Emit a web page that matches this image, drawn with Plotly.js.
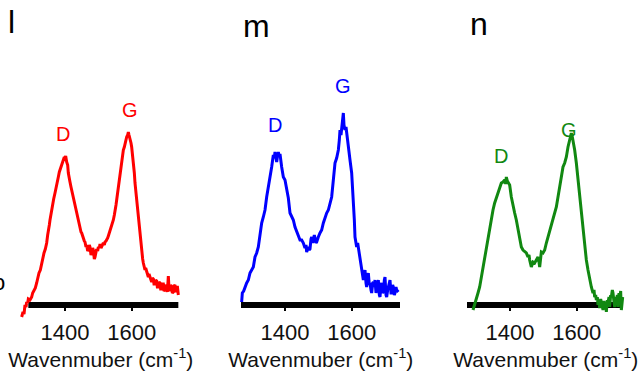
<!DOCTYPE html>
<html><head><meta charset="utf-8">
<script src="https://cdn.plot.ly/plotly-3.0.1.min.js"></script>
<style>html,body{margin:0;padding:0;background:#fff;}#chart{width:643px;height:381px;}</style>
</head><body><div id="chart"></div>
<script>
// ---- data (Raman spectra, arbitrary intensity units) ----
const panelLetters = ["l", "m", "n"];
const peakLabels = ["D", "G"];
const tickValues = [1400, 1600];
const tickLabels = ["1400", "1600"];
const axisTitle = "Wavenmuber (cm<sup>-1</sup>)";

const wnL = [1270,1274,1277,1280,1283,1285,1288,1290,1295,1300,1303,1307,1311,1315,1318,1322,1326,1330,1333,1337,1341,1345,1348,1350,1353,1355,1358,1362,1366,1370,1373,1375,1378,1380,1383,1385,1388,1390,1393,1395,1398,1400,1402,1405,1408,1410,1413,1415,1418,1420,1423,1425,1428,1430,1433,1435,1438,1440,1443,1445,1448,1450,1453,1455,1458,1460,1463,1465,1468,1470,1473,1475,1478,1480,1483,1485,1488,1490,1493,1495,1498,1500,1503,1505,1508,1510,1513,1515,1518,1520,1523,1525,1528,1530,1533,1535,1538,1540,1543,1545,1548,1550,1553,1555,1558,1560,1563,1565,1568,1570,1573,1575,1578,1580,1583,1585,1588,1590,1592,1595,1598,1600,1603,1605,1608,1610,1613,1615,1618,1620,1623,1625,1628,1630,1633,1635,1638,1640,1642,1645,1647,1650,1652,1655,1657,1660,1662,1665,1667,1670,1672,1675,1677,1680,1682,1685,1687,1690,1692,1695,1697,1700,1702,1705,1707,1710,1712,1715,1717,1720,1722,1725,1727,1730,1732,1735,1737,1740];
const intL = [-12,-7,-9,0,-2,3,2,6,5,8,12,15,17,22,27,32,35,42,48,52,56,62,70,73,80,85,92,98,106,112,118,120,126,128,133,135,140,140,145,145,148,147,149,143,140,132,128,123,118,115,111,107,102,98,95,91,87,85,80,78,73,72,68,67,64,63,58,60,54,55,60,58,50,52,57,55,46,48,55,56,54,58,57,61,57,59,61,62,60,63,64,65,67,69,72,74,77,79,83,85,90,93,100,105,112,118,126,133,140,145,150,155,158,162,165,168,170,173,170,167,162,158,150,142,132,122,112,103,93,85,75,67,58,52,46,42,36,35,37,33,30,28,31,27,24,23,27,26,21,21,25,24,18,18,23,22,16,16,21,21,14,15,20,19,13,29,17,14,20,18,12,13,19,20,13,15,19,10];

const wnM = [1270,1272,1276,1280,1285,1290,1295,1300,1305,1310,1315,1320,1325,1330,1335,1340,1345,1350,1355,1360,1365,1368,1370,1373,1375,1378,1380,1383,1385,1390,1395,1400,1405,1410,1415,1420,1425,1430,1435,1440,1445,1450,1455,1460,1463,1465,1468,1470,1473,1475,1478,1480,1483,1485,1488,1490,1493,1495,1498,1500,1505,1510,1515,1520,1525,1530,1535,1540,1545,1550,1555,1560,1563,1565,1568,1570,1573,1575,1577,1580,1583,1585,1590,1595,1600,1603,1605,1608,1610,1613,1615,1618,1620,1623,1625,1628,1630,1633,1635,1637,1640,1643,1645,1648,1650,1653,1655,1658,1660,1663,1665,1668,1670,1673,1675,1678,1680,1683,1685,1688,1690,1693,1695,1698,1700,1703,1705,1708,1710,1713,1715,1718,1720,1723,1725,1728,1730,1733,1735,1740];
const intM = [3,12,14,18,22,25,32,35,38,48,52,58,72,82,88,95,108,118,125,138,150,147,153,145,143,150,153,148,151,138,128,125,115,107,92,88,85,78,73,68,65,65,62,57,60,53,56,58,55,56,66,68,62,65,70,67,62,63,68,68,72,75,82,88,92,95,102,108,125,142,147,155,165,175,170,175,185,192,180,175,178,172,155,145,132,118,105,85,68,62,58,62,58,50,45,40,35,28,25,30,35,22,18,28,32,20,22,15,12,22,23,18,25,12,15,22,25,10,8,20,22,12,13,25,28,10,8,15,18,25,25,12,12,20,18,10,12,18,15,13];

const wnN = [1289,1294,1299,1304,1309,1314,1319,1324,1329,1334,1339,1344,1349,1354,1359,1364,1369,1374,1379,1384,1387,1389,1392,1394,1399,1404,1409,1414,1419,1424,1429,1434,1439,1444,1449,1454,1457,1459,1462,1464,1469,1474,1479,1484,1487,1489,1492,1494,1499,1504,1509,1514,1519,1524,1529,1534,1539,1544,1549,1554,1559,1564,1569,1574,1579,1584,1587,1589,1594,1599,1604,1609,1614,1619,1624,1629,1634,1639,1644,1649,1652,1654,1657,1659,1662,1664,1667,1669,1672,1674,1677,1679,1682,1684,1687,1689,1692,1694,1697,1699,1702,1704,1707,1709,1712,1714,1717,1719,1722,1724,1727,1729,1732,1734,1738];
const intN = [-5,0,5,12,18,28,38,48,58,68,78,85,95,102,107,113,117,122,123,125,121,128,124,123,120,108,98,92,85,75,65,58,55,53,52,48,50,45,40,38,43,42,45,48,43,38,47,53,52,55,62,68,73,78,85,92,98,108,118,132,138,142,148,158,167,172,168,165,155,142,125,108,92,75,58,45,35,25,18,12,15,8,10,5,8,0,5,-3,6,3,-2,-5,4,-2,2,-7,5,2,8,-2,10,8,15,12,3,-2,8,3,10,-2,12,5,14,-5,8];

// ---- layout helpers ----
const W = 643, H = 381;
const fx = x => x / W;
const fy = y => 1 - y / H;
const FONT = "Liberation Sans, Arial, Helvetica, sans-serif";

const panels = [
  {x: wnL, y: intL, color: "#ff0000", dom: [20, 181.67], bar: [1290, 1740],
   letter: [11.5, 22], D: [62.5, 133.5], G: [130, 110]},
  {x: wnM, y: intM, color: "#0000ff", dom: [240, 401.67], bar: [1268, 1745],
   letter: [256, 26], D: [274.5, 125], G: [342.5, 85.5]},
  {x: wnN, y: intN, color: "#118811", dom: [465, 626.67], bar: [1271, 1736],
   letter: [478.5, 24], D: [500.5, 155.5], G: [569, 130]}
];

const data = [];
const layout = {
  width: W, height: H,
  margin: {l: 0, r: 0, t: 0, b: 0},
  paper_bgcolor: "#fff", plot_bgcolor: "rgba(0,0,0,0)",
  showlegend: false,
  font: {family: FONT, color: "#000"},
  shapes: [], annotations: []
};

panels.forEach((p, i) => {
  const k = i === 0 ? "" : String(i + 1);
  data.push({x: p.x, y: p.y, type: "scatter", mode: "lines",
    xaxis: "x" + k, yaxis: "y" + k,
    line: {color: p.color, width: 3}, hoverinfo: "skip"});
  layout["xaxis" + k] = {
    domain: [fx(p.dom[0]), fx(p.dom[1])], range: [1265, 1750],
    anchor: "free", position: fy(305),
    showgrid: false, zeroline: false, showline: false,
    tickmode: "array", tickvals: tickValues, ticktext: tickLabels,
    ticks: "outside", ticklen: 5, tickwidth: 2, tickcolor: "#000",
    ticklabelstandoff: 3,
    tickfont: {size: 22, family: FONT, color: "#111"},
    title: {text: axisTitle, font: {size: 21, family: FONT, color: "#111"}, standoff: 6},
    fixedrange: true
  };
  layout["yaxis" + k] = {
    domain: [fy(325), fy(95)], range: [-20, 210],
    anchor: "x" + k, visible: false, showgrid: false, zeroline: false, fixedrange: true
  };
  layout.shapes.push({type: "line", xref: "x" + k, yref: "y" + k,
    x0: p.bar[0], x1: p.bar[1], y0: 0, y1: 0, layer: "below",
    line: {color: "#000", width: 6}});
  layout.annotations.push({text: panelLetters[i], xref: "paper", yref: "paper",
    x: fx(p.letter[0]), y: fy(p.letter[1]), xanchor: "center", yanchor: "middle",
    showarrow: false, font: {size: 32, family: FONT, color: "#000"}});
  [p.D, p.G].forEach((pos, j) => {
    layout.annotations.push({text: peakLabels[j], xref: "paper", yref: "paper",
      x: fx(pos[0]), y: fy(pos[1]), xanchor: "center", yanchor: "middle",
      showarrow: false, font: {size: 20, family: FONT, color: p.color}});
  });
});

// cropped glyph at the left edge of the original figure
layout.annotations.push({text: "o", xref: "paper", yref: "paper",
  x: fx(-1), y: fy(282), xanchor: "center", yanchor: "middle",
  showarrow: false, font: {size: 22, family: FONT, color: "#000"}});

Plotly.newPlot("chart", data, layout, {staticPlot: true, displayModeBar: false});
</script></body></html>
